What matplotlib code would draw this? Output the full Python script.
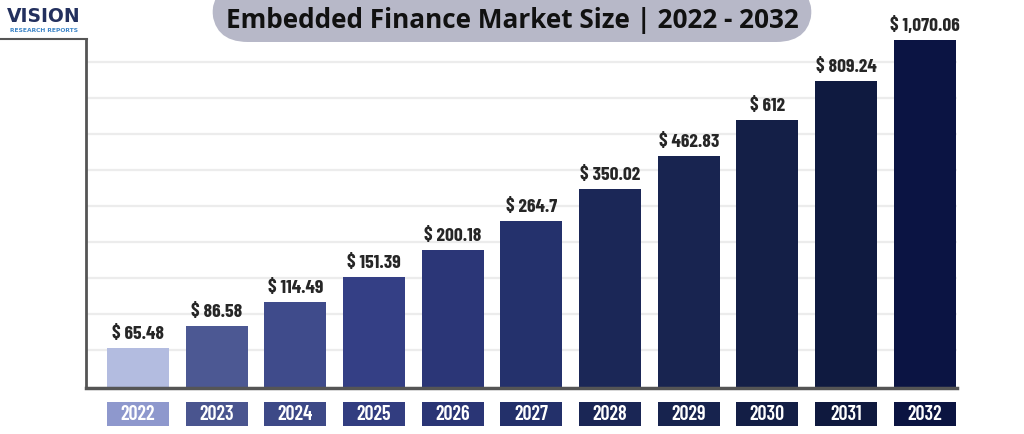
import matplotlib
matplotlib.use("Agg")
import matplotlib.pyplot as plt
from matplotlib.patches import FancyBboxPatch, Rectangle
from matplotlib.lines import Line2D
import numpy as np

years = ["2022", "2023", "2024", "2025", "2026", "2027", "2028", "2029", "2030", "2031", "2032"]
values = [65.48, 86.58, 114.49, 151.39, 200.18, 264.7, 350.02, 462.83, 612, 809.24, 1070.06]
labels = ["$ 65.48", "$ 86.58", "$ 114.49", "$ 151.39", "$ 200.18", "$ 264.7",
          "$ 350.02", "$ 462.83", "$ 612", "$ 809.24", "$ 1,070.06"]
bar_colors = ["#b3bce0", "#4c5893", "#3f4b8b", "#343f85", "#2b3677", "#24316c",
              "#1b2757", "#182450", "#141f47", "#0f1a40", "#0b1443"]
box_colors = ["#8e98cd", "#4a558f", "#3d4987", "#323d80", "#2a3575", "#23306a",
              "#1a2655", "#17234e", "#131e45", "#0f193e", "#0b1441"]
title = "Embedded Finance Market Size | 2022 - 2032"

COND = ["Barlow Condensed", "DejaVu Sans"]

W, H = 1024, 434
fig = plt.figure(figsize=(W / 100, H / 100), dpi=100)
fig.patch.set_facecolor("white")

ax_l, ax_r, ax_b, ax_t = 86, 957, 388, 39
ax = fig.add_axes([ax_l / W, 1 - ax_b / H, (ax_r - ax_l) / W, (ax_b - ax_t) / H])

p = 0.25
ax.set_yscale("function", functions=(lambda v: np.sign(v) * np.abs(v) ** p,
                                      lambda u: np.sign(u) * np.abs(u) ** (1 / p)))
ax.set_ylim(37.3, 1077)
x = np.arange(len(years))
ax.set_xlim(-0.66, len(years) - 1 + 0.41)

# faint gridlines
for k in range(9):
    fr = (38 + 36 * k) / (ax_b - ax_t)
    ax.plot([0, 1], [fr, fr], transform=ax.transAxes, color="#ececec", lw=1.6, zorder=0)

bw = 0.79
ax.bar(x, values, width=bw, color=bar_colors, zorder=2)
for xi, v, lab in zip(x, values, labels):
    ax.annotate(lab, (xi, v), xytext=(0, 3.5), textcoords="offset points",
                ha="center", va="bottom", fontsize=14, fontweight=700,
                color="#262626", family=COND, zorder=3)

for s in ["top", "right"]:
    ax.spines[s].set_visible(False)
ax.spines["left"].set_color("#555555")
ax.spines["left"].set_linewidth(2)
ax.spines["bottom"].set_color("#555555")
ax.spines["bottom"].set_linewidth(2.5)
ax.set_yticks([])
ax.set_xticks([])
ax.yaxis.set_minor_locator(matplotlib.ticker.NullLocator())

# year label boxes below axis
trans = ax.get_xaxis_transform()
hax = ax_b - ax_t
for xi, yr, c in zip(x, years, box_colors):
    ax.add_patch(Rectangle((xi - bw / 2, -38 / hax), bw, 24 / hax, transform=trans,
                           fc=c, ec="none", clip_on=False, zorder=3))
    ax.text(xi, -26 / hax, yr, transform=trans, ha="center", va="center",
            fontsize=14.5, fontweight=600, color="white", family=COND,
            clip_on=False, zorder=4)

# title pill
tb = FancyBboxPatch((212 / W, 1 - 42 / H), 600 / W, 60 / H,
                    boxstyle="round,pad=0,rounding_size=0.035",
                    transform=fig.transFigure, fc="#b7b8c8", ec="none",
                    mutation_aspect=W / H, zorder=5)
fig.patches.append(tb)
fig.text(512 / W, 1 - 20 / H, title, ha="center", va="center", fontsize=18.8,
         fontweight="bold", fontstretch="normal", color="#111111",
         family="Open Sans", zorder=6)

# logo
fig.text(44 / W, 1 - 16 / H, "VISION", ha="center", va="center", fontsize=13.5,
         fontweight="heavy", color="#23305e", family="DejaVu Sans")
fig.text(44 / W, 1 - 30 / H, "RESEARCH REPORTS", ha="center", va="center",
         fontsize=4.3, fontweight="bold", color="#3f86c8", family="DejaVu Sans")
fig.add_artist(Line2D([0, 87 / W], [1 - 39 / H, 1 - 39 / H], transform=fig.transFigure,
                      color="#555555", lw=1.5))

fig.savefig("out.png", dpi=100)
